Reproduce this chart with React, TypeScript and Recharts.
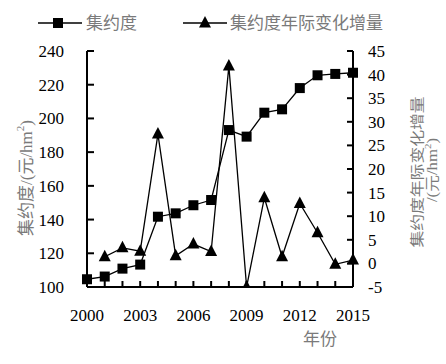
import React from 'react';
import { ComposedChart, Line, XAxis, YAxis } from 'recharts';

const years = [2000, 2001, 2002, 2003, 2004, 2005, 2006, 2007, 2008, 2009, 2010, 2011, 2012, 2013, 2014, 2015];
const intensity = [104.6, 106.2, 110.9, 113.3, 141.7, 143.7, 148.5, 151.6, 193.1, 189.2, 203.4, 205.4, 218.0, 225.6, 226.4, 227.1];
const annualChange: (number | null)[] = [null, 1.4, 3.3, 2.6, 27.4, 1.6, 4.1, 2.5, 41.8, -5.0, 13.9, 1.4, 12.7, 6.5, -0.2, 0.7];
const xLabelYears = [2000, 2003, 2006, 2009, 2012, 2015];
const leftTicks = [100, 120, 140, 160, 180, 200, 220, 240];
const rightTicks = [-5, 0, 5, 10, 15, 20, 25, 30, 35, 40, 45];
const seriesNames = ['集约度', '集约度年际变化增量'];

const data = years.map((y, i) => ({ year: y, a: intensity[i], b: annualChange[i] }));

const NUM_STYLE = { fontFamily: 'Liberation Serif' };
const CJK_STYLE = { fontFamily: 'Liberation Serif, Noto Sans CJK SC' };
const GRAY = '#7a7a7a';

const XTick = (props: any) => {
  const { x, y, payload } = props;
  const show = xLabelYears.includes(payload.value);
  return (
    <g>
      <line x1={x} x2={x} y1={y} y2={y - 6} stroke="#000" strokeWidth={2} />
      {show && (
        <text x={x} y={y + 34} textAnchor="middle" style={NUM_STYLE} fontSize={17} fill="#000">
          {payload.value}
        </text>
      )}
    </g>
  );
};

const LeftTick = (props: any) => {
  const { x, y, payload } = props;
  return (
    <g>
      <line x1={x} x2={x + 7} y1={y} y2={y} stroke="#000" strokeWidth={2} />
      <text x={x - 23} y={y} dy="0.35em" textAnchor="end" style={NUM_STYLE} fontSize={17} fill="#000">
        {payload.value}
      </text>
    </g>
  );
};

const RightTick = (props: any) => {
  const { x, y, payload } = props;
  return (
    <g>
      <line x1={x} x2={x - 6} y1={y} y2={y} stroke="#000" strokeWidth={2} />
      <text x={x + 15} y={y} dy="0.35em" textAnchor="start" style={NUM_STYLE} fontSize={17} fill="#000">
        {payload.value}
      </text>
    </g>
  );
};

const SquareDot = (props: any) => {
  const { cx, cy, index } = props;
  if (cx == null || cy == null) return <g key={`s${index}`} />;
  return <rect key={`s${index}`} x={cx - 5} y={cy - 5} width={10} height={10} fill="#000" />;
};

const TriDot = (props: any) => {
  const { cx, cy, index, value } = props;
  if (cx == null || cy == null || value == null) return <g key={`t${index}`} />;
  return (
    <path
      key={`t${index}`}
      d={`M${cx},${cy - 7} L${cx + 6},${cy + 4.5} L${cx - 6},${cy + 4.5} Z`}
      fill="#000"
    />
  );
};

export default function App() {
  return (
    <div style={{ position: 'absolute', left: 0, top: 0, width: 446, height: 364, background: '#fff' }}>
      <ComposedChart
        width={446}
        height={364}
        data={data}
        margin={{ top: 51, right: 0, bottom: 0, left: 0 }}
      >
        <XAxis
          dataKey="year"
          type="number"
          domain={[2000, 2015]}
          ticks={years}
          interval={0}
          height={77}
          tickSize={0}
          tickMargin={0}
          tick={<XTick />}
          axisLine={{ stroke: '#000', strokeWidth: 2 }}
          tickLine={false}
        />
        <YAxis
          yAxisId="left"
          orientation="left"
          domain={[100, 240]}
          ticks={leftTicks}
          interval={0}
          width={87}
          tickSize={0}
          tickMargin={0}
          tick={<LeftTick />}
          axisLine={{ stroke: '#000', strokeWidth: 2 }}
          tickLine={false}
          allowDataOverflow
        />
        <YAxis
          yAxisId="right"
          orientation="right"
          domain={[-5, 45]}
          ticks={rightTicks}
          interval={0}
          width={93}
          tickSize={0}
          tickMargin={0}
          tick={<RightTick />}
          axisLine={{ stroke: '#000', strokeWidth: 2 }}
          tickLine={false}
          allowDataOverflow
        />
        <Line
          yAxisId="left"
          dataKey="a"
          name={seriesNames[0]}
          stroke="#000"
          strokeWidth={1.3}
          dot={SquareDot}
          activeDot={false}
          isAnimationActive={false}
          type="linear"
        />
        <Line
          yAxisId="right"
          dataKey="b"
          name={seriesNames[1]}
          stroke="#000"
          strokeWidth={1.3}
          dot={TriDot}
          activeDot={false}
          isAnimationActive={false}
          type="linear"
        />
      </ComposedChart>
      <svg
        width={446}
        height={364}
        style={{ position: 'absolute', left: 0, top: 0, pointerEvents: 'none' }}
      >
        <line x1={38} x2={82} y1={23} y2={23} stroke="#000" strokeWidth={1.5} />
        <rect x={53} y={18} width={10} height={10} fill="#000" />
        <text x={86} y={23} dy="0.35em" style={CJK_STYLE} fontSize={17} fill={GRAY}>
          {seriesNames[0]}
        </text>
        <line x1={183} x2={227} y1={23} y2={23} stroke="#000" strokeWidth={1.5} />
        <path d="M205,16 L211,27.5 L199,27.5 Z" fill="#000" />
        <text x={230} y={23} dy="0.35em" style={CJK_STYLE} fontSize={17} fill={GRAY}>
          {seriesNames[1]}
        </text>
        <text x={320} y={339} dy="0.35em" textAnchor="middle" style={CJK_STYLE} fontSize={17} fill={GRAY}>
          年份
        </text>
        <text
          transform="translate(26,178) rotate(-90)"
          textAnchor="middle"
          dominantBaseline="central"
          style={CJK_STYLE}
          fontSize={17}
          fill={GRAY}
        >
          集约度/(元/hm<tspan dy={-6} fontSize={11}>2</tspan><tspan dy={6}>)</tspan>
        </text>
        <text
          transform="translate(417,172) rotate(-90) scale(1.2,1)"
          textAnchor="middle"
          dominantBaseline="central"
          style={CJK_STYLE}
          fontSize={14}
          fill={GRAY}
        >
          集约度年际变化增量
        </text>
        <text
          transform="translate(432,170) rotate(-90) scale(1.2,1)"
          textAnchor="middle"
          dominantBaseline="central"
          style={CJK_STYLE}
          fontSize={14}
          fill={GRAY}
        >
          /(元/hm<tspan dy={-5} fontSize={9}>2</tspan><tspan dy={5}>)</tspan>
        </text>
      </svg>
    </div>
  );
}
